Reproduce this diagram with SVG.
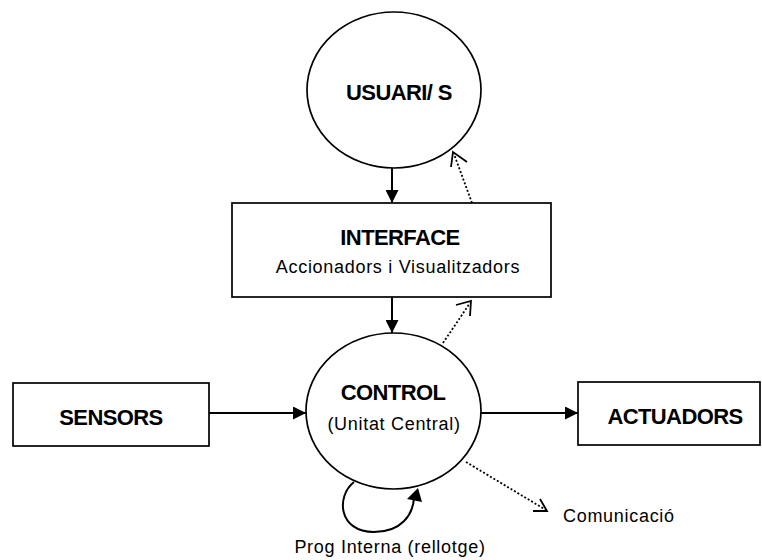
<svg xmlns="http://www.w3.org/2000/svg" width="762" height="560" viewBox="0 0 762 560">
<defs>
<style>
.shape{fill:#fff;stroke:#000;stroke-width:1.7}
.b{font-family:"Liberation Sans",Arial,sans-serif;font-weight:bold;font-size:22px;letter-spacing:-0.6px;text-anchor:middle;fill:#000}
.r{font-family:"Liberation Sans",Arial,sans-serif;font-size:18px;letter-spacing:0.7px;fill:#000}
.solid{fill:none;stroke:#000;stroke-width:2}
.dot{fill:none;stroke:#000;stroke-width:1.8;stroke-dasharray:2 2}
.open{fill:none;stroke:#000;stroke-width:1.8}
</style>
<marker id="fa" viewBox="0 0 13 13" refX="13" refY="6.5" markerWidth="13" markerHeight="13" markerUnits="userSpaceOnUse" orient="auto">
<path d="M0,0 L13,6.5 L0,13 Z" fill="#000"/>
</marker>
</defs>
<rect width="762" height="560" fill="#fff"/>
<g id="usuaris">
<ellipse class="shape" cx="394" cy="90" rx="87" ry="78"/>
<text class="b" x="399" y="100">USUARI/ S</text>
</g>
<g id="interface">
<rect class="shape" x="232" y="203" width="319" height="94"/>
<text class="b" x="400" y="245">INTERFACE</text>
<text class="r" x="398" y="273" text-anchor="middle">Accionadors i Visualitzadors</text>
</g>
<g id="control">
<ellipse class="shape" cx="393.5" cy="411" rx="87.5" ry="78"/>
<text class="b" x="393" y="400">CONTROL</text>
<text class="r" x="394" y="430" text-anchor="middle">(Unitat Central)</text>
</g>
<g id="sensors">
<rect class="shape" x="13" y="383" width="196" height="63"/>
<text class="b" x="111" y="425">SENSORS</text>
</g>
<g id="actuadors">
<rect class="shape" x="578" y="382" width="182" height="63"/>
<text class="b" x="675" y="424">ACTUADORS</text>
</g>
<g id="comunicacio">
<text class="r" x="563" y="522">Comunicació</text>
</g>
<g id="prog">
<text class="r" x="390" y="553" text-anchor="middle" letter-spacing="0.3">Prog Interna (rellotge)</text>
</g>
<g id="connectors">
<line class="solid" x1="392" y1="168" x2="392" y2="203" marker-end="url(#fa)"/>
<line class="solid" x1="392" y1="297" x2="392" y2="333" marker-end="url(#fa)"/>
<line class="solid" x1="209" y1="413" x2="306" y2="413" marker-end="url(#fa)"/>
<line class="solid" x1="481" y1="413" x2="578" y2="413" marker-end="url(#fa)"/>
<line class="dot" x1="472" y1="203" x2="454" y2="154"/>
<path class="open" d="M451,167 L453,152 L467,162"/>
<line class="dot" x1="443" y1="343" x2="470" y2="303"/>
<path class="open" d="M456,305 L471,301 L470,316"/>
<line class="dot" x1="466" y1="462" x2="546" y2="510"/>
<path class="open" d="M540,499 L547,511 L533,511"/>
<path class="solid" d="M354,482 C336,496 338,532 374,532 C402,532 413,514 414,498"/>
<path d="M407,499 L418,488 L422,502 Z" fill="#000"/>
</g>
</svg>
